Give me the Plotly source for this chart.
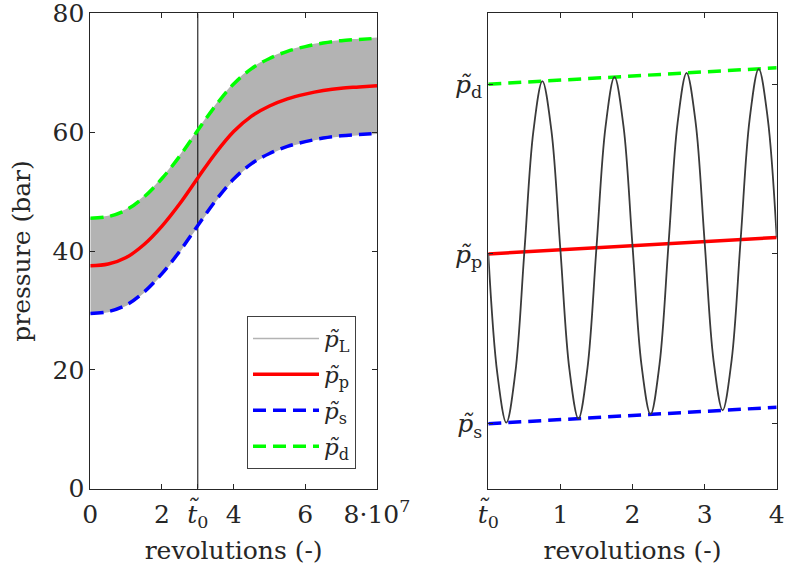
import plotly.graph_objects as go

# ---------------- data ----------------
# left panel: revolutions in units of 10^7
rev_left = [0, 0.5, 1, 1.5, 2, 2.5, 3, 3.5, 4, 4.5, 5, 5.5, 6, 6.5, 7, 7.5, 8]
p_p = [37.5, 37.8, 38.9, 41.1, 44.2, 48.0, 52.3, 56.5, 60.1, 62.7, 64.4, 65.6, 66.4, 67.0, 67.4, 67.6, 67.8]
p_s = [29.5, 29.8, 30.9, 33.1, 36.2, 40.0, 44.3, 48.5, 52.1, 54.7, 56.4, 57.6, 58.4, 59.0, 59.4, 59.6, 59.8]
p_d = [45.5, 45.8, 46.9, 49.1, 52.2, 56.0, 60.3, 64.5, 68.1, 70.7, 72.4, 73.6, 74.4, 75.0, 75.4, 75.6, 75.8]
t0 = 3.0
left_xticks = [0, 2, 3, 4, 6, 8]
left_xticktext = ["0", "2", "<i>t̃</i><sub>0</sub>", "4", "6", "8·10<sup>7</sup>"]
left_yticks = [0, 20, 40, 60, 80]

# right panel: revolutions after t0 (normalised pressure units)
rev_right = [0, 0.125, 0.25, 0.375, 0.5, 0.625, 0.75, 0.875,
             1, 1.125, 1.25, 1.375, 1.5, 1.625, 1.75, 1.875,
             2, 2.125, 2.25, 2.375, 2.5, 2.625, 2.75, 2.875,
             3, 3.125, 3.25, 3.375, 3.5, 3.625, 3.75, 3.875, 4]
p_L_right = [0.000, -0.704, -0.994, -0.698, 0.012, 0.722, 1.018, 0.728,
             0.024, -0.680, -0.970, -0.674, 0.036, 0.746, 1.043, 0.753,
             0.049, -0.655, -0.945, -0.649, 0.061, 0.771, 1.067, 0.777,
             0.073, -0.631, -0.921, -0.625, 0.085, 0.795, 1.091, 0.801, 0.097]
rev_right_ends = [0, 4]
p_p_right = [0.0, 0.097]
p_s_right = [-1.0, -0.903]
p_d_right = [1.0, 1.097]
right_xticks = [0, 1, 2, 3, 4]
right_xticktext = ["<i>t̃</i><sub>0</sub>", "1", "2", "3", "4"]
right_yticks = [-1, 0, 1]
right_yticktext = ["<i>p̃</i><sub>s</sub>", "<i>p̃</i><sub>p</sub>", "<i>p̃</i><sub>d</sub>"]

# ---------------- style ----------------
FONT = "DejaVu Serif"
AX = "#262626"
GRAY = "#b3b3b3"
RED = "#ff0000"
BLUE = "#0000ff"
GREEN = "#00ff00"
DASH = "13px,7px"
FS = 25

fig = go.Figure()

# band lower edge -> legend entry for p_L (thin gray line)
fig.add_trace(go.Scatter(x=rev_left, y=p_s, mode="lines", line=dict(width=1.5, color=GRAY, shape="spline"),
                         name="<i>p̃</i><sub>L</sub>", hoverinfo="skip", xaxis="x", yaxis="y", legendgroup="a"))
# band upper edge with fill
fig.add_trace(go.Scatter(x=rev_left, y=p_d, mode="lines", fill="tonexty", fillcolor=GRAY,
                         line=dict(width=1.5, color=GRAY, shape="spline"),
                         showlegend=False, xaxis="x", yaxis="y", legendgroup="a"))
# vertical t0 line
fig.add_trace(go.Scatter(x=[t0, t0], y=[0, 80], mode="lines", line=dict(width=1, color="black"),
                         showlegend=False, xaxis="x", yaxis="y"))
fig.add_trace(go.Scatter(x=rev_left, y=p_p, mode="lines", line=dict(width=3.5, color=RED, shape="spline"),
                         name="<i>p̃</i><sub>p</sub>", xaxis="x", yaxis="y", legendgroup="b"))
fig.add_trace(go.Scatter(x=rev_left, y=p_s, mode="lines", line=dict(width=3.5, color=BLUE, dash=DASH, shape="spline"),
                         name="<i>p̃</i><sub>s</sub>", xaxis="x", yaxis="y", legendgroup="c"))
fig.add_trace(go.Scatter(x=rev_left, y=p_d, mode="lines", line=dict(width=3.5, color=GREEN, dash=DASH, shape="spline"),
                         name="<i>p̃</i><sub>d</sub>", xaxis="x", yaxis="y", legendgroup="d"))

# right panel
fig.add_trace(go.Scatter(x=rev_right_ends, y=p_p_right, mode="lines", line=dict(width=3.5, color=RED),
                         showlegend=False, xaxis="x2", yaxis="y2"))
fig.add_trace(go.Scatter(x=rev_right_ends, y=p_s_right, mode="lines", line=dict(width=3.5, color=BLUE, dash=DASH),
                         showlegend=False, xaxis="x2", yaxis="y2"))
fig.add_trace(go.Scatter(x=rev_right_ends, y=p_d_right, mode="lines", line=dict(width=3.5, color=GREEN, dash=DASH),
                         showlegend=False, xaxis="x2", yaxis="y2"))
fig.add_trace(go.Scatter(x=rev_right, y=p_L_right, mode="lines", line=dict(width=1.8, color="#3a3a3a", shape="spline"),
                         showlegend=False, xaxis="x2", yaxis="y2"))

W, H = 785, 579
axcommon = dict(showline=True, linecolor=AX, linewidth=1, mirror="ticks", ticks="inside",
                ticklen=5, tickcolor=AX, showgrid=False, zeroline=False, ticklabeloverflow="allow",
                tickfont=dict(family=FONT, size=FS, color=AX), automargin=False)
titlefont = dict(family=FONT, size=FS, color=AX)

fig.update_layout(
    width=W, height=H,
    margin=dict(l=0, r=0, t=0, b=0, autoexpand=False),
    paper_bgcolor="white", plot_bgcolor="white",
    font=dict(family=FONT, color=AX),
    xaxis=dict(domain=[90.3 / W, 377 / W], range=[0, 8], tickvals=left_xticks, ticktext=left_xticktext,
               title=dict(text="revolutions (-)", font=titlefont, standoff=10), ticklabelstandoff=3,
               anchor="y", **axcommon),
    yaxis=dict(domain=[1 - 488.7 / H, 1 - 13.3 / H], range=[0, 80], tickvals=left_yticks,
               title=dict(text="pressure (bar)", font=titlefont, standoff=14),
               anchor="x", **axcommon),
    xaxis2=dict(domain=[488.3 / W, 776.7 / W], range=[0, 4], tickvals=right_xticks, ticktext=right_xticktext,
                title=dict(text="revolutions (-)", font=titlefont, standoff=10), ticklabelstandoff=3,
                anchor="y2", **axcommon),
    yaxis2=dict(domain=[1 - 488.7 / H, 1 - 13.3 / H], range=[-1.383, 1.418], tickvals=right_yticks,
                ticktext=right_yticktext, anchor="x2", **axcommon),
    legend=dict(x=356 / W, y=1 - 316 / H, xanchor="right", yanchor="top",
                bgcolor="white", bordercolor="#404040", borderwidth=1,
                font=dict(family=FONT, size=23, color=AX), itemwidth=66,
                tracegroupgap=3, traceorder="grouped"),
    showlegend=True,
)

fig.write_html("out.html", config={"displayModeBar": False},
               post_script="document.body.style.margin='0';document.body.style.overflow='hidden';")
